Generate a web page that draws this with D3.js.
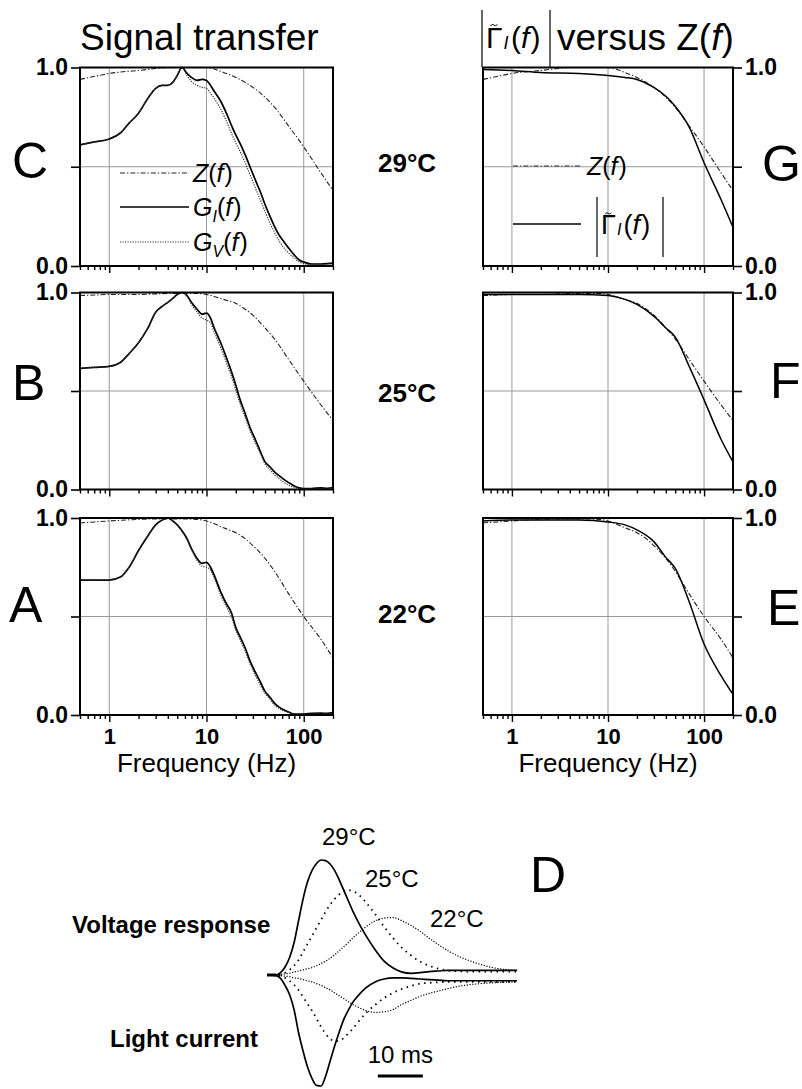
<!DOCTYPE html>
<html><head><meta charset="utf-8">
<script src="https://cdn.jsdelivr.net/npm/d3@7"></script>
<style>body{margin:0;background:#fff} svg{display:block} text{font-family:"Liberation Sans",Arial,sans-serif;fill:#000}</style>
</head><body>
<svg id="c" width="802" height="1089"></svg>
<script>
// ---------- DATA ----------
const temps = ["29°C", "25°C", "22°C"];
const panelLeft = ["C", "B", "A"];
const panelRight = ["G", "F", "E"];
const majorTicks = [1, 10, 100];
const minorTicks = [0.5,0.6,0.7,0.8,0.9,2,3,4,5,6,7,8,9,20,30,40,50,60,70,80,90,200];
const yTicks = [0, 0.5, 1];
const yTickLabels = ["0.0", "", "1.0"];

const fZ = [0.5,0.7,1,1.5,2,3,4,6,8,10,15,20,25,30,40,50,70,100,150,200];
const Z29 = [0.94,0.955,0.97,0.98,0.985,0.995,1.0,1.0,1.0,1.0,0.975,0.95,0.925,0.9,0.85,0.8,0.705,0.6,0.47,0.38];
const Z25 = [0.985,0.987,0.99,0.99,0.99,0.993,0.995,0.995,0.995,0.99,0.965,0.945,0.915,0.885,0.82,0.765,0.66,0.55,0.43,0.35];
const Z22 = [0.975,0.98,0.985,0.99,0.993,0.995,0.995,0.995,0.993,0.985,0.95,0.925,0.895,0.86,0.795,0.73,0.615,0.5,0.385,0.29];

const fG = [0.5,0.7,1,1.3,1.6,2,2.5,3,3.5,4,4.5,5,5.6,6.3,7,8,9,10,11,12,14,16,18,20,22,25,28,32,36,40,45,50,56,63,70,80,90,100,120,150,175,200];
const GI29 = [0.61,0.625,0.64,0.67,0.72,0.77,0.845,0.895,0.91,0.91,0.925,0.96,1.0,0.97,0.95,0.935,0.94,0.935,0.91,0.88,0.83,0.77,0.71,0.66,0.62,0.56,0.5,0.43,0.37,0.31,0.25,0.2,0.155,0.12,0.09,0.055,0.03,0.02,0.01,0.01,0.012,0.015];
const GV29 = [0.61,0.625,0.64,0.67,0.72,0.77,0.845,0.895,0.91,0.91,0.925,0.96,1.0,0.96,0.93,0.91,0.9,0.895,0.87,0.845,0.79,0.73,0.67,0.62,0.58,0.52,0.46,0.39,0.33,0.275,0.215,0.17,0.125,0.09,0.065,0.04,0.02,0.012,0.008,0.008,0.01,0.01];
const GI25 = [0.615,0.62,0.625,0.645,0.69,0.745,0.82,0.9,0.93,0.95,0.97,0.99,1.0,0.985,0.95,0.915,0.89,0.895,0.87,0.82,0.745,0.67,0.6,0.53,0.46,0.385,0.315,0.25,0.19,0.14,0.115,0.09,0.07,0.05,0.035,0.018,0.008,0.005,0.005,0.008,0.006,0.01];
const GV25 = [0.615,0.62,0.625,0.645,0.69,0.745,0.82,0.9,0.93,0.95,0.97,0.99,1.0,0.98,0.94,0.9,0.87,0.86,0.845,0.8,0.72,0.645,0.575,0.505,0.44,0.365,0.3,0.235,0.18,0.13,0.1,0.075,0.055,0.035,0.022,0.012,0.006,0.004,0.004,0.006,0.005,0.008];
const GI22 = [0.685,0.685,0.685,0.7,0.75,0.835,0.91,0.965,0.99,1.0,0.985,0.965,0.935,0.895,0.845,0.795,0.77,0.775,0.75,0.71,0.625,0.565,0.52,0.445,0.4,0.34,0.275,0.215,0.165,0.12,0.09,0.06,0.04,0.025,0.015,0.005,0.005,0.005,0.008,0.01,0.008,0.012];
const GV22 = [0.685,0.685,0.685,0.7,0.75,0.835,0.91,0.965,0.99,1.0,0.985,0.965,0.93,0.89,0.84,0.785,0.755,0.75,0.735,0.695,0.61,0.55,0.5,0.43,0.385,0.325,0.26,0.2,0.15,0.11,0.08,0.05,0.032,0.02,0.012,0.005,0.004,0.004,0.005,0.006,0.006,0.008];

const fGam = [0.5,1,2,5,10,15,20,30,40,50,70,100,150,200];
const Gam29 = [0.99,0.985,0.975,0.97,0.96,0.95,0.94,0.9,0.855,0.805,0.7,0.52,0.335,0.195];
const Gam25 = [0.99,0.99,0.99,0.99,0.985,0.965,0.94,0.88,0.82,0.775,0.625,0.455,0.255,0.14];
const Gam22 = [0.985,0.99,0.99,0.99,0.98,0.965,0.94,0.88,0.8,0.745,0.575,0.36,0.2,0.105];

const tD = [0,2,3,4,5,6,7,8,9,10,11,12,13,14,15,16,17,18,19,20,22,24,26,28,30,32,34,36,38,40,43,46,50,55.5];
const V29 = [0,0,0.02,0.07,0.15,0.28,0.47,0.66,0.81,0.91,0.97,1.0,0.995,0.965,0.91,0.83,0.74,0.65,0.56,0.48,0.34,0.22,0.12,0.06,0.025,0.015,0.02,0.03,0.035,0.04,0.04,0.04,0.04,0.04];
const I29 = [0,-0.005,-0.03,-0.09,-0.17,-0.3,-0.5,-0.66,-0.8,-0.9,-0.96,-0.965,-0.88,-0.75,-0.62,-0.5,-0.39,-0.31,-0.24,-0.19,-0.11,-0.06,-0.035,-0.025,-0.025,-0.03,-0.035,-0.04,-0.045,-0.05,-0.05,-0.05,-0.05,-0.05];
const V25 = [0,0,0.005,0.02,0.045,0.08,0.13,0.2,0.27,0.34,0.41,0.48,0.55,0.61,0.66,0.7,0.73,0.74,0.73,0.71,0.63,0.53,0.42,0.32,0.235,0.17,0.115,0.08,0.055,0.04,0.032,0.03,0.03,0.03];
const I25 = [0,0,-0.01,-0.025,-0.05,-0.085,-0.13,-0.19,-0.25,-0.31,-0.38,-0.45,-0.51,-0.555,-0.575,-0.57,-0.55,-0.51,-0.47,-0.42,-0.33,-0.26,-0.2,-0.155,-0.12,-0.095,-0.075,-0.068,-0.063,-0.06,-0.06,-0.06,-0.06,-0.06];
const V22 = [0,0,0.005,0.01,0.015,0.025,0.035,0.045,0.055,0.065,0.08,0.1,0.12,0.145,0.175,0.21,0.245,0.28,0.32,0.355,0.42,0.47,0.495,0.5,0.47,0.43,0.38,0.32,0.265,0.215,0.155,0.11,0.065,0.04];
const I22 = [0,0,-0.005,-0.01,-0.015,-0.025,-0.03,-0.04,-0.05,-0.06,-0.075,-0.09,-0.11,-0.13,-0.155,-0.18,-0.205,-0.23,-0.255,-0.275,-0.31,-0.325,-0.32,-0.3,-0.255,-0.22,-0.185,-0.16,-0.14,-0.12,-0.095,-0.08,-0.068,-0.06];
const scaleBarStart = 24.6, scaleBarLen = 10;

// ---------- DRAW ----------
const svg = d3.select('#c');
svg.append('rect').attr('width',802).attr('height',1089).attr('fill','#fff');
const rows = [{top:67.5,bot:266},{top:292.5,bot:489.5},{top:518,bot:715}];
const cols = [{x0:80,x1:333},{x0:483,x1:733}];
const zip = (xs, ys) => xs.map((x,i)=>[x, ys[i]]);
const SERIF = 'Liberation Serif, Times New Roman, serif';

const styles = {
  Z: {w:1.1, dash:"5,2,1.3,2", color:"#222"},
  GI: {w:1.7, dash:null, color:"#000"},
  GV: {w:1.2, dash:"1.2,1.3", color:"#333"},
  Gam: {w:1.5, dash:null, color:"#000"}
};

function drawPanel(ci, ri, series) {
  const c = cols[ci], r = rows[ri];
  const x = d3.scaleLog().domain([0.5,200]).range([c.x0,c.x1]);
  const y = d3.scaleLinear().domain([0,1]).range([r.bot,r.top]);
  const g = svg.append('g');
  g.selectAll('.gx').data(majorTicks).join('line')
    .attr('x1',d=>x(d)).attr('x2',d=>x(d)).attr('y1',r.top).attr('y2',r.bot)
    .attr('stroke','#999').attr('stroke-width',1);
  g.append('line').attr('x1',c.x0).attr('x2',c.x1).attr('y1',y(0.5)).attr('y2',y(0.5))
    .attr('stroke','#999').attr('stroke-width',1);
  const line = d3.line().x(d=>x(d[0])).y(d=>y(d[1])).curve(d3.curveMonotoneX);
  series.forEach(s=>{
    const st = styles[s.type];
    g.append('path').attr('d', line(s.data)).attr('fill','none')
      .attr('stroke',st.color).attr('stroke-width',st.w)
      .attr('stroke-dasharray',st.dash);
  });
  g.append('rect').attr('x',c.x0).attr('y',r.top).attr('width',c.x1-c.x0).attr('height',r.bot-r.top)
    .attr('fill','none').attr('stroke','#000').attr('stroke-width',2);
  const isBottom = ri===2;
  const axMinor = d3.axisBottom(x).tickValues(minorTicks).tickSize(4).tickFormat('');
  const gm = g.append('g').attr('transform',`translate(0,${r.bot})`).call(axMinor);
  const axMajor = d3.axisBottom(x).tickValues(majorTicks).tickSize(7).tickPadding(6)
    .tickFormat(d=> isBottom ? d3.format('d')(d) : '');
  const gM = g.append('g').attr('transform',`translate(0,${r.bot})`).call(axMajor);
  [gm,gM].forEach(a=>{a.select('.domain').remove(); a.selectAll('.tick line').attr('stroke','#000').attr('stroke-width',1.4);});
  gM.selectAll('.tick text').attr('font-family','Liberation Sans, Arial').attr('font-weight','bold')
    .attr('font-size',22).attr('dy','0.71em').attr('fill','#000');
  const yAx = (ci===0 ? d3.axisLeft(y) : d3.axisRight(y)).tickValues(yTicks).tickSize(9).tickPadding(3)
    .tickFormat((d,i)=>yTickLabels[i]);
  const gy = g.append('g').attr('transform',`translate(${ci===0?c.x0:c.x1},0)`).call(yAx);
  gy.select('.domain').remove();
  gy.selectAll('.tick line').attr('stroke','#000').attr('stroke-width',1.6);
  gy.selectAll('.tick text').attr('font-family','Liberation Sans, Arial').attr('font-weight','bold')
    .attr('font-size',23).attr('fill','#000');
  if (isBottom) {
    g.append('text').attr('x',(c.x0+c.x1)/2).attr('y',772).attr('text-anchor','middle')
      .attr('font-size',26).text('Frequency (Hz)');
  }
  return {x,y,g};
}

const Zs=[Z29,Z25,Z22], GIs=[GI29,GI25,GI22], GVs=[GV29,GV25,GV22], Gams=[Gam29,Gam25,Gam22];
for (let i=0;i<3;i++){
  drawPanel(0,i,[
    {type:'Z', data:zip(fZ,Zs[i])},
    {type:'GI', data:zip(fG,GIs[i])},
    {type:'GV', data:zip(fG,GVs[i])}
  ]);
  drawPanel(1,i,[
    {type:'Z', data:zip(fZ,Zs[i])},
    {type:'Gam', data:zip(fGam,Gams[i])}
  ]);
}

svg.append('text').attr('x',80).attr('y',50).attr('font-size',37).text('Signal transfer');

function gammaText(x, yb, size){
  const gT = svg.append('text').attr('x',x).attr('y',yb).attr('font-family',SERIF).attr('font-size',size).text('Γ');
  const w = gT.node().getComputedTextLength();
  // tilde accent drawn as a small wave above the Gamma
  const cx = x + w/2 + 1, ty = yb - size*0.78, hw = size*0.16, a = size*0.05;
  svg.append('path')
    .attr('d',`M${cx-hw},${ty+a} C${cx-hw*0.5},${ty-a*2} ${cx},${ty+a*2.5} ${cx+hw*0.4},${ty-a*0.2} S${cx+hw},${ty-a}`)
    .attr('fill','none').attr('stroke','#000').attr('stroke-width',1);
  const t = svg.append('text').attr('x',x+w+1).attr('y',yb).attr('font-family',SERIF).attr('font-size',size);
  t.append('tspan').attr('font-style','italic').attr('font-size',size*0.6).attr('dy',size*0.04).text('I');
  t.append('tspan').attr('dx',size*0.08).attr('dy',-size*0.04).text('(');
  t.append('tspan').attr('font-style','italic').text('f');
  t.append('tspan').attr('dx',size*0.04).text(')');
}
svg.append('line').attr('x1',482).attr('x2',482).attr('y1',10).attr('y2',67).attr('stroke','#000').attr('stroke-width',1.2);
svg.append('line').attr('x1',550).attr('x2',550).attr('y1',10).attr('y2',67).attr('stroke','#000').attr('stroke-width',1.2);
gammaText(486, 48, 30);
const vz = svg.append('text').attr('x',557).attr('y',50).attr('font-size',37);
vz.append('tspan').text('versus Z(');
vz.append('tspan').attr('font-style','italic').text('f');
vz.append('tspan').text(')');

[[12,178],[12,400],[9,622]].forEach((p,i)=>svg.append('text').attr('x',p[0]).attr('y',p[1]).attr('font-size',50).text(panelLeft[i]));
[[762,181],[770,398],[767,625]].forEach((p,i)=>svg.append('text').attr('x',p[0]).attr('y',p[1]).attr('font-size',50).text(panelRight[i]));
[172,402,623].forEach((yb,i)=>svg.append('text').attr('x',378).attr('y',yb).attr('font-size',26).attr('font-weight','bold').text(temps[i]));

function legendLine(x1,x2,yy,type){
  const st=styles[type];
  svg.append('line').attr('x1',x1).attr('x2',x2).attr('y1',yy).attr('y2',yy)
    .attr('stroke',st.color).attr('stroke-width',st.w).attr('stroke-dasharray',st.dash);
}
function serifLabel(x,yb,main,sub){
  const t=svg.append('text').attr('x',x).attr('y',yb).attr('font-family',SERIF).attr('font-size',25);
  t.append('tspan').attr('font-style','italic').text(main);
  if(sub){ t.append('tspan').attr('font-style','italic').attr('font-size',16).attr('dy',6).text(sub); t.append('tspan').attr('dy',-6).text('('); }
  else t.append('tspan').text('(');
  t.append('tspan').attr('font-style','italic').text('f');
  t.append('tspan').attr('dx',1).text(')');
}
legendLine(120,189,173,'Z'); serifLabel(193,182,'Z');
legendLine(120,189,207,'GI'); serifLabel(193,216,'G','I');
legendLine(120,189,242,'GV'); serifLabel(193,251,'G','V');
legendLine(513,581,166,'Z'); serifLabel(587,175,'Z');
legendLine(513,581,224,'Gam');
svg.append('line').attr('x1',597).attr('x2',597).attr('y1',197).attr('y2',257).attr('stroke','#000').attr('stroke-width',1.2);
svg.append('line').attr('x1',663).attr('x2',663).attr('y1',197).attr('y2',257).attr('stroke','#000').attr('stroke-width',1.2);
gammaText(601, 234, 27);

// ---------- Panel D ----------
const xD = d3.scaleLinear().domain([0,55.5]).range([267,517]);
const yD = d3.scaleLinear().domain([-1,1]).range([1090,860]);
const lineD = d3.line().x(d=>xD(d[0])).y(d=>yD(d[1])).curve(d3.curveMonotoneX);
const dStyles = [{w:1.7,dash:null},{w:1.8,dash:"1.5,4.5"},{w:1.2,dash:"1.2,1.6"}];
[[V29,I29],[V25,I25],[V22,I22]].forEach((pair,i)=>{
  pair.forEach(arr=>{
    svg.append('path').attr('d',lineD(zip(tD,arr))).attr('fill','none').attr('stroke','#000')
      .attr('stroke-width',dStyles[i].w).attr('stroke-dasharray',dStyles[i].dash);
  });
});
svg.append('line').attr('x1',xD(0)).attr('x2',xD(2)).attr('y1',yD(0)).attr('y2',yD(0)).attr('stroke','#000').attr('stroke-width',3);
svg.append('line').attr('x1',xD(scaleBarStart)).attr('x2',xD(scaleBarStart+scaleBarLen)).attr('y1',1076).attr('y2',1076).attr('stroke','#000').attr('stroke-width',3);
svg.append('text').attr('x',xD(scaleBarStart+scaleBarLen/2)).attr('y',1063).attr('text-anchor','middle').attr('font-size',24).text('10 ms');
svg.append('text').attr('x',72).attr('y',933).attr('font-size',24).attr('font-weight','bold').text('Voltage response');
svg.append('text').attr('x',110).attr('y',1047).attr('font-size',24).attr('font-weight','bold').text('Light current');
[[322,845],[365,887],[430,927]].forEach((p,i)=>svg.append('text').attr('x',p[0]).attr('y',p[1]).attr('font-size',24).text(temps[i]));
svg.append('text').attr('x',530).attr('y',892).attr('font-size',50).text('D');
</script>
</body></html>
